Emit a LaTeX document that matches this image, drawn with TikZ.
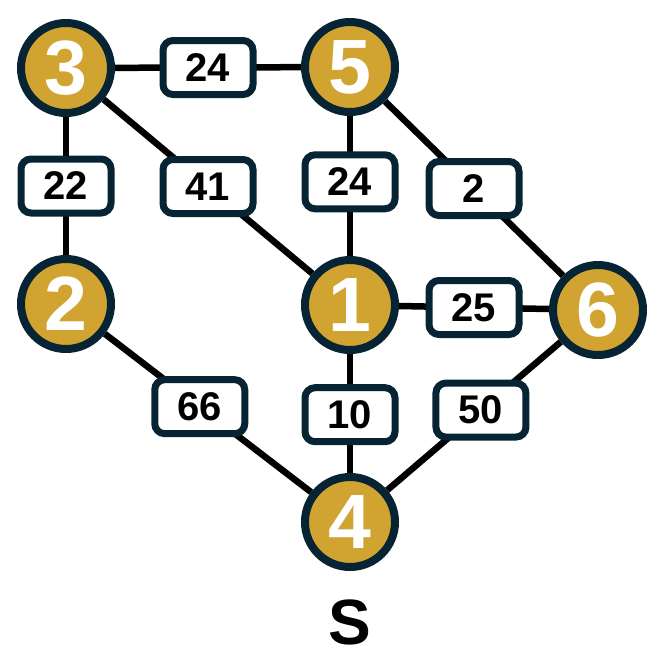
\documentclass[tikz,border=0pt]{standalone}
\usepackage{fontspec}
\setmainfont{Liberation Sans}
\usetikzlibrary{backgrounds}
\definecolor{gold}{HTML}{D1A431}
\definecolor{navy}{HTML}{062433}
\tikzset{
  vert/.style={circle, fill=gold, draw=navy, line width=8pt, minimum size=90pt, inner sep=0pt,
    text=white, font=\fontsize{77}{77}\selectfont\bfseries},
  wbox/.style={rectangle, rounded corners=10pt, fill=white, draw=navy, line width=7pt,
    minimum width=90pt, minimum height=54pt, inner sep=0pt, text=black,
    font=\fontsize{40}{40}\selectfont\bfseries},
  edge/.style={line width=6.5pt, draw=black}
}
\begin{document}
\begin{tikzpicture}[x=1pt,y=-1pt]
\useasboundingbox (0,0) rectangle (656,657);
\node[vert] (n3) at (66,68) {3};
\node[vert] (n5) at (350,67) {5};
\node[vert] (n2) at (66,304) {2};
\node[vert] (n1) at (350,305) {1};
\node[vert] (n6) at (598,310) {6};
\node[vert] (n4) at (350,522) {4};
\node[font=\fontsize{64}{64}\selectfont\bfseries] (s) at (350,622) {S};
\begin{scope}[on background layer]
\draw[edge] (n3) -- node[wbox, pos=0.5] (e35) {24} (n5);
\draw[edge] (n3) -- node[wbox, pos=0.5] (e32) {22} (n2);
\draw[edge] (n3) -- node[wbox, pos=0.5] (e31) {41} (n1);
\draw[edge] (n5) -- node[wbox, pos=0.47] (e51) {24} (n1);
\draw[edge] (n5) -- node[wbox, pos=0.5] (e56) {2} (n6);
\draw[edge] (n1) -- node[wbox, pos=0.5] (e16) {25} (n6);
\draw[edge] (n2) -- node[wbox, pos=0.46] (e24) {66} (n4);
\draw[edge] (n1) -- node[wbox, pos=0.51] (e14) {10} (n4);
\draw[edge] (n6) -- node[wbox, pos=0.46] (e64) {50} (n4);
\end{scope}
\end{tikzpicture}
\end{document}
